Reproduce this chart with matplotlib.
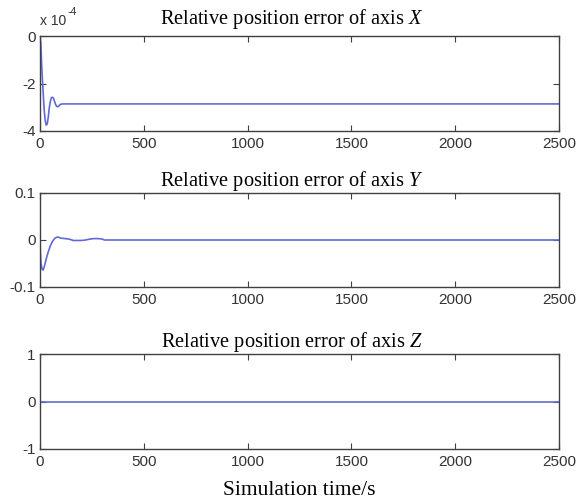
import matplotlib
matplotlib.use("Agg")
import matplotlib.pyplot as plt

# Panel X (values in units of 1e-4)
tx = [0, 4, 8, 12, 16, 20, 25, 30, 35, 40, 45, 50, 55, 60, 65, 70, 75, 80, 85, 90, 95, 100, 110, 2500]
ex = [0, -0.3, -1.2, -1.9, -2.5, -3.1, -3.55, -3.75, -3.7, -3.4, -3.0, -2.75, -2.6, -2.58, -2.62,
      -2.75, -2.88, -2.96, -2.98, -2.95, -2.9, -2.87, -2.86, -2.86]

# Panel Y
ty = [0, 2, 5, 10, 15, 20, 30, 40, 50, 60, 70, 80, 90, 100, 120, 140, 160, 180, 200, 220, 240,
      260, 280, 300, 310, 2500]
ey = [0, -0.03, -0.05, -0.062, -0.064, -0.058, -0.04, -0.025, -0.012, -0.003, 0.003, 0.006,
      0.006, 0.004, 0.003, 0.002, -0.001, -0.001, -0.001, 0.0, 0.002, 0.003, 0.003, 0.002, 0.0, 0.0]

# Panel Z
tz = [0, 2500]
ez = [0, 0]

titles = ["Relative position error of axis $\\it{X}$",
          "Relative position error of axis $\\it{Y}$",
          "Relative position error of axis $\\it{Z}$"]
xticks = [0, 500, 1000, 1500, 2000, 2500]
yticks_list = [[-4, -2, 0], [-0.1, 0, 0.1], [-1, 0, 1]]
ytick_labels = [["-4", "-2", "0"], ["-0.1", "0", "0.1"], ["-1", "0", "1"]]
ylims = [(-4, 0), (-0.1, 0.1), (-1, 1)]

plt.rcParams['mathtext.fontset'] = 'custom'
plt.rcParams['mathtext.it'] = 'Liberation Serif:italic'
plt.rcParams['mathtext.rm'] = 'Liberation Serif'
plt.rcParams['mathtext.default'] = 'regular'

fig = plt.figure(figsize=(5.79, 5.00), dpi=100)
W, H = 579, 500
boxes = [(40, 36, 559, 131), (40, 193, 559, 287), (40, 354, 559, 449)]
title_pads = [8.6, 5, 5]
line_color = '#6169d6'
frame_color = '#404040'
tick_color = '#333333'

data = [(tx, ex), (ty, ey), (tz, ez)]
for i, (l, t, r, b) in enumerate(boxes):
    ax = fig.add_axes([l / W, 1 - b / H, (r - l) / W, (b - t) / H])
    x, y = data[i]
    ax.plot(x, y, color=line_color, lw=1.2)
    ax.set_xlim(0, 2500)
    ax.set_ylim(*ylims[i])
    ax.set_xticks(xticks)
    ax.set_xticklabels([str(v) for v in xticks], family='Liberation Sans', fontsize=11, color=tick_color)
    ax.set_yticks(yticks_list[i])
    ax.set_yticklabels(ytick_labels[i], family='Liberation Sans', fontsize=11, color=tick_color)
    ax.tick_params(direction='in', length=4, width=0.8, top=True, right=True, color=frame_color)
    ax.tick_params(axis='x', pad=4)
    ax.tick_params(axis='y', pad=3)
    for s in ax.spines.values():
        s.set_color(frame_color)
        s.set_linewidth(1.0)
    ax.set_title(titles[i], family='Liberation Serif', fontsize=14.7, pad=title_pads[i], x=0.486)
    if i == 0:
        ax.text(0.0, 1.08, "x 10", transform=ax.transAxes, family='Liberation Sans',
                fontsize=10, color=tick_color, ha='left', va='bottom')
        ax.text(0.054, 1.2, "-4", transform=ax.transAxes, family='Liberation Sans',
                fontsize=7.5, color=tick_color, ha='left', va='bottom')
    if i == 2:
        ax.set_xlabel("Simulation time/s", family='Liberation Serif', fontsize=15.5, labelpad=9)

fig.savefig("out.png", dpi=100)
